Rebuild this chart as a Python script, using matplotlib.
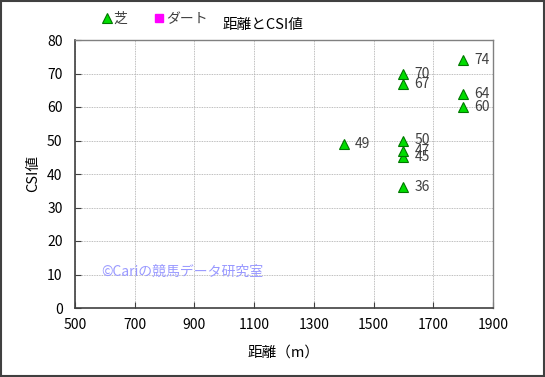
import matplotlib
matplotlib.use("Agg")
import matplotlib.pyplot as plt
from matplotlib.patches import Rectangle

plt.rcParams['font.family'] = ['Noto Sans CJK JP', 'DejaVu Sans']

# 芝 data: distance (m), CSI value
turf_dist = [1400, 1600, 1600, 1600, 1600, 1600, 1600, 1800, 1800, 1800]
turf_csi = [49, 36, 45, 47, 50, 67, 70, 60, 64, 74]
# ダート data (none in chart)
dirt_dist = []
dirt_csi = []

xticks = [500, 700, 900, 1100, 1300, 1500, 1700, 1900]
yticks = [0, 10, 20, 30, 40, 50, 60, 70, 80]

fig = plt.figure(figsize=(5.45, 3.77), dpi=100)
ax = fig.add_axes([75/545, 1-308/377, 418/545, 268/377])

ax.plot(turf_dist, turf_csi, linestyle='none', marker='^', markersize=7,
        markerfacecolor='#00dd00', markeredgecolor='#007700', markeredgewidth=0.8,
        label='芝', zorder=3)
ax.plot(dirt_dist, dirt_csi, linestyle='none', marker='s', markersize=6,
        markerfacecolor='#ff00ff', markeredgecolor='#ff00ff', label='ダート')

for x, y in zip(turf_dist, turf_csi):
    ax.annotate(str(y), (x, y), xytext=(8, 0), textcoords='offset points',
                va='center', ha='left', fontsize=10, color='#404040')

ax.set_xlim(500, 1900)
ax.set_ylim(0, 80)
ax.set_xticks(xticks)
ax.set_yticks(yticks)
ax.tick_params(direction='in', length=4, labelsize=10, colors='#404040',
               labelcolor='black')
ax.tick_params(axis='y', pad=9)
ax.tick_params(axis='x', pad=7)
ax.grid(True, linestyle=(0, (1, 1)), color='#a8a8a8', linewidth=0.6)
ax.set_axisbelow(True)
for s in ['left', 'bottom']:
    ax.spines[s].set_color('#404040')
    ax.spines[s].set_linewidth(1.2)
for s in ['top', 'right']:
    ax.spines[s].set_color('#808080')
    ax.spines[s].set_linewidth(1.0)

ax.set_xlabel('距離（m）', fontsize=10.5, labelpad=10)
ax.set_ylabel('CSI値', fontsize=10.5, labelpad=5)

ax.text(587, 10.7, '©Cariの競馬データ研究室', fontsize=10, color='#9999ff',
        va='center', ha='left')

fig.text(263/545, 1-25/377, '距離とCSI値', ha='center', va='center', fontsize=10.5)

fig.legend(loc='center left', bbox_to_anchor=(97/545, 1-19/377), ncol=2,
           frameon=False, handlelength=0.6, handletextpad=0.2, columnspacing=2.0,
           fontsize=10, labelcolor='#404040', borderaxespad=0)

fig.patches.append(Rectangle((0.002, 0.003), 0.996, 0.994, transform=fig.transFigure,
                             fill=False, edgecolor='#404040', linewidth=1.5))

fig.savefig('out.png', dpi=100)
